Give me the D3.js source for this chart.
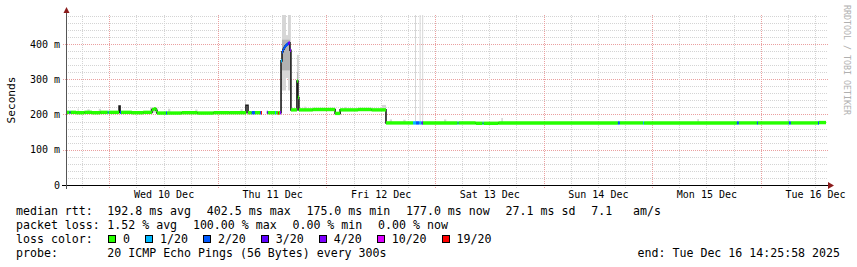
<!DOCTYPE html>
<html>
<head>
<meta charset="utf-8">
<script src="https://cdn.jsdelivr.net/npm/d3@7/dist/d3.min.js"></script>
<style>
body { margin: 0; background: #fff; }
text { font-family: "DejaVu Sans Mono", monospace; white-space: pre; }
</style>
</head>
<body>
<div id="chart"></div>
<script>
/* smokeping style latency graph, one week of median rtt with loss colours */

const startTime = "2025-12-09 14:25:58";
const endTime = "2025-12-16 14:25:58";

// median rtt (ms) as steps, with loss level index (null = no colour band)
const medTimes = [
  "2025-12-09 14:26", "2025-12-09 15:13", "2025-12-09 15:27", "2025-12-09 16:40", "2025-12-09 18:30",
  "2025-12-09 20:10", "2025-12-09 22:00", "2025-12-09 23:40", "2025-12-09 23:53", "2025-12-10 02:10",
  "2025-12-10 02:23", "2025-12-10 02:36", "2025-12-10 05:00", "2025-12-10 07:30", "2025-12-10 09:26",
  "2025-12-10 09:52", "2025-12-10 10:18", "2025-12-10 10:32", "2025-12-10 12:32", "2025-12-10 12:45",
  "2025-12-10 16:00", "2025-12-10 19:30", "2025-12-10 23:00", "2025-12-11 02:30", "2025-12-11 06:00",
  "2025-12-11 06:13", "2025-12-11 06:40", "2025-12-11 07:30", "2025-12-11 08:12", "2025-12-11 09:20",
  "2025-12-11 09:32", "2025-12-11 09:45", "2025-12-11 10:50", "2025-12-11 11:03", "2025-12-11 12:38",
  "2025-12-11 12:51", "2025-12-11 13:17", "2025-12-11 13:30", "2025-12-11 13:44", "2025-12-11 13:58",
  "2025-12-11 14:11", "2025-12-11 14:25", "2025-12-11 14:38", "2025-12-11 14:51", "2025-12-11 15:04",
  "2025-12-11 15:17", "2025-12-11 15:30", "2025-12-11 15:43", "2025-12-11 15:56", "2025-12-11 16:09",
  "2025-12-11 17:29", "2025-12-11 17:42", "2025-12-11 17:55", "2025-12-11 21:00", "2025-12-12 01:55",
  "2025-12-12 03:02", "2025-12-12 07:00", "2025-12-12 10:00", "2025-12-12 13:10", "2025-12-12 19:08",
  "2025-12-12 19:48", "2025-12-12 20:30", "2025-12-12 21:03", "2025-12-12 21:20", "2025-12-13 05:00",
  "2025-12-13 05:13", "2025-12-13 09:00", "2025-12-13 10:32", "2025-12-13 10:45", "2025-12-13 14:00",
  "2025-12-14 16:26", "2025-12-14 16:52", "2025-12-14 22:00", "2025-12-14 22:13", "2025-12-15 18:44",
  "2025-12-15 19:10", "2025-12-15 23:10", "2025-12-15 23:23", "2025-12-16 06:14", "2025-12-16 06:40",
  "2025-12-16 12:40", "2025-12-16 12:53", "2025-12-16 14:26"
];
const medValues = [
  206, 206, 206, 205, 206,
  205, 206, 206, 206, 224,
  206, 206, 205, 206, 214,
  216, 212, 204, 204, 204,
  205, 204, 205, 205, 205,
  226, 205, 205, 205, 205,
  205, null, 206, 205, 205,
  205, 204, 205, 205, 352,
  378, 385, 390, 394, 397,
  399, 401, 403, 382, 213,
  295, 248, 213, 214, 203,
  213, 214, 213, 176, 176,
  176, 176, 176, 176, 176,
  176, 175, 175, 175, 176,
  176, 176, 176, 176, 176,
  176, 176, 176, 176, 176,
  176, 177, 177
];
const medLoss = [
  0, 2, 0, 0, 0,
  0, 0, 1, 0, null,
  2, 0, 0, 0, 0,
  0, 0, 0, 2, 0,
  0, 0, 0, 0, 0,
  null, 0, 2, 0, 2,
  6, null, 3, 0, 1,
  0, 6, 0, 4, 1,
  2, 2, 2, 2, 2,
  2, 3, 4, 4, 0,
  0, 0, 0, 0, 0,
  0, 0, 0, 0, 1,
  2, 1, 3, 0, 1,
  0, 0, 1, 0, 0,
  2, 0, 1, 0, 2,
  0, 2, 0, 2, 0,
  2, 0, null
];

// smoke: spread of the pings (ms)
const smokeStart = [
  "2025-12-09 17:00", "2025-12-09 19:10", "2025-12-09 21:40", "2025-12-10 09:00", "2025-12-10 13:00",
  "2025-12-10 19:00", "2025-12-11 05:00", "2025-12-11 06:00", "2025-12-11 14:11", "2025-12-11 15:04",
  "2025-12-11 15:30", "2025-12-11 17:29", "2025-12-11 19:00", "2025-12-12 04:00", "2025-12-12 12:17",
  "2025-12-12 14:00", "2025-12-12 17:00", "2025-12-12 19:35", "2025-12-12 20:36", "2025-12-12 21:10",
  "2025-12-13 02:00", "2025-12-13 14:40", "2025-12-15 10:00", "2025-12-16 06:00"
];
const smokeEnd = [
  "2025-12-09 17:15", "2025-12-09 19:40", "2025-12-09 22:10", "2025-12-10 10:40", "2025-12-10 13:30",
  "2025-12-10 19:30", "2025-12-11 05:30", "2025-12-11 06:13", "2025-12-11 15:04", "2025-12-11 15:30",
  "2025-12-11 16:09", "2025-12-11 17:55", "2025-12-11 19:30", "2025-12-12 04:20", "2025-12-12 13:10",
  "2025-12-12 14:30", "2025-12-12 17:30", "2025-12-12 19:45", "2025-12-12 20:46", "2025-12-12 21:20",
  "2025-12-13 02:30", "2025-12-13 15:00", "2025-12-15 10:20", "2025-12-16 06:20"
];
const smokeLow = [
  205, 205, 205, 205, 204,
  204, 205, 205, 268, 303,
  268, 213, 213, 213, 213,
  176, 176, 176, 176, 176,
  176, 175, 176, 176
];
const smokeHigh = [
  217, 215, 216, 220, 216,
  214, 215, 242, 482, 425,
  482, 369, 222, 221, 227,
  186, 185, 482, 482, 482,
  186, 190, 187, 186
];
// darker core of the smoke
const coreStart = ["2025-12-11 14:11", "2025-12-11 17:29"];
const coreEnd = ["2025-12-11 15:56", "2025-12-11 17:42"];
const coreLow = [325, 250];
const coreHigh = [412, 320];

const yTicks = [0, 100, 200, 300, 400];
const yTickLabels = ["0", "100 m", "200 m", "300 m", "400 m"];

const lossLabels = ["0", "1/20", "2/20", "3/20", "4/20", "10/20", "19/20"];
const lossColors = ["#26ff00", "#00b8ff", "#0059ff", "#5e00ff", "#7e00ff", "#dd00ff", "#ff0000"];

const rttItems = ["192.8 ms avg", "402.5 ms max", "175.0 ms min", "177.0 ms now", "27.1 ms sd", "7.1   am/s"];
const pktItems = ["1.52 % avg", "100.00 % max", "0.00 % min", "0.00 % now"];
const probeText = "20 ICMP Echo Pings (56 Bytes) every 300s";

const parseT = d3.timeParse("%Y-%m-%d %H:%M");
const parseS = d3.timeParse("%Y-%m-%d %H:%M:%S");
const t0 = parseS(startTime), t1 = parseS(endTime);

const svg = d3.select('#chart').append('svg')
  .attr('width', 857)
  .attr('height', 267);

const x = d3.scaleTime().domain([t0, t1]).range([66, 826]);
const y = d3.scaleLinear().domain([0, 482]).range([185, 15]);
const px = v => Math.round(v) + 0.5;

// grid
const grid = svg.append('g');
d3.range(20, 481, 20).forEach(v => {
  const major = v % 100 === 0;
  grid.append('line')
    .attr('x1', major ? 63 : 66).attr('x2', 828)
    .attr('y1', px(y(v))).attr('y2', px(y(v)))
    .attr('stroke', major ? '#eaa0a0' : '#d4d4d4')
    .attr('stroke-dasharray', '1,1');
});
const midnights = d3.timeDay.range(d3.timeDay.ceil(t0), t1);
d3.timeHour.every(6).range(t0, t1).forEach(t => {
  const major = t.getHours() === 0;
  grid.append('line')
    .attr('x1', px(x(t))).attr('x2', px(x(t)))
    .attr('y1', 15).attr('y2', 188)
    .attr('stroke', major ? '#eaa0a0' : '#d4d4d4')
    .attr('stroke-dasharray', '1,1');
});

// smoke
smokeStart.forEach((s, i) => {
  const xa = x(parseT(s)), xb = x(parseT(smokeEnd[i]));
  svg.append('rect')
    .attr('x', xa).attr('width', Math.max(1, xb - xa))
    .attr('y', y(smokeHigh[i])).attr('height', y(smokeLow[i]) - y(smokeHigh[i]))
    .attr('fill', '#d6d6d6');
});
coreStart.forEach((s, i) => {
  const xa = x(parseT(s)), xb = x(parseT(coreEnd[i]));
  svg.append('rect')
    .attr('x', xa).attr('width', Math.max(1, xb - xa))
    .attr('y', y(coreHigh[i])).attr('height', y(coreLow[i]) - y(coreHigh[i]))
    .attr('fill', '#b2b2b2');
});

// median
const med = medTimes.map((t, i) => ({ t: parseT(t), v: medValues[i], loss: medLoss[i] }));
const stepLine = d3.line()
  .defined(d => d.v != null)
  .x(d => x(d.t))
  .y(d => y(d.v))
  .curve(d3.curveStepAfter);
svg.append('path')
  .datum(med)
  .attr('fill', 'none')
  .attr('stroke', '#1a1a1a')
  .attr('stroke-width', 1.6)
  .attr('d', stepLine);

med.forEach((d, i) => {
  if (i === med.length - 1 || d.v == null || d.loss == null) return;
  svg.append('line')
    .attr('x1', x(d.t)).attr('x2', x(med[i + 1].t))
    .attr('y1', y(d.v)).attr('y2', y(d.v))
    .attr('stroke', lossColors[d.loss])
    .attr('stroke-width', 3.4);
});

// axes
svg.append('line')
  .attr('x1', 62).attr('x2', 829).attr('y1', 185.5).attr('y2', 185.5)
  .attr('stroke', '#000');
svg.append('line')
  .attr('x1', 66.5).attr('x2', 66.5).attr('y1', 189).attr('y2', 11)
  .attr('stroke', '#555');
svg.append('path').attr('d', 'M828,182L834,185.5L828,189Z').attr('fill', '#8b1c1c');
svg.append('path').attr('d', 'M63.5,13L66.5,7L69.5,13Z').attr('fill', '#8b1c1c');

const yAxis = svg.append('g')
  .attr('transform', 'translate(63,0)')
  .call(d3.axisLeft(y).tickValues(yTicks).tickFormat((d, i) => yTickLabels[i]).tickSize(0).tickPadding(3));
yAxis.select('.domain').remove();
yAxis.selectAll('text')
  .attr('font-family', '"DejaVu Sans Mono", monospace')
  .attr('font-size', '10px')
  .attr('fill', '#000');

const noons = midnights.map(d => d3.timeHour.offset(d, 12));
const xAxis = svg.append('g')
  .attr('transform', 'translate(0,185)')
  .call(d3.axisBottom(x).tickValues(noons).tickFormat(d3.timeFormat('%a %d %b')).tickSize(0));
xAxis.select('.domain').remove();
xAxis.selectAll('text')
  .attr('y', 13.3).attr('dy', null)
  .attr('font-family', '"DejaVu Sans Mono", monospace')
  .attr('font-size', '10px')
  .attr('fill', '#000');

// titles
svg.append('text')
  .attr('transform', 'translate(15,100) rotate(-90)')
  .attr('text-anchor', 'middle')
  .style('font-size', '11.2px')
  .text('Seconds');

svg.append('text')
  .attr('transform', 'translate(844,5) rotate(90)')
  .style('font-size', '8.3px')
  .attr('fill', '#b0b0b0')
  .text('RRDTOOL / TOBI OETIKER');

// legend
const fs = '11.6px';
function row(label, items, yb) {
  svg.append('text').attr('x', 16).attr('y', yb).style('font-size', fs).text(label);
  let cx = 107.3;
  items.forEach(s => {
    const t = svg.append('text').attr('x', cx).attr('y', yb).style('font-size', fs).text(s);
    cx += t.node().getComputedTextLength() + 15.8;
  });
}
row('median rtt:', rttItems, 215);
row('packet loss:', pktItems, 229);

svg.append('text').attr('x', 16).attr('y', 243).style('font-size', fs).text('loss color:');
let bx = 108.3;
lossLabels.forEach((l, i) => {
  svg.append('rect')
    .attr('x', Math.round(bx) + 0.5).attr('y', 235.5)
    .attr('width', 7).attr('height', 7)
    .attr('fill', lossColors[i]).attr('stroke', '#000');
  const t = svg.append('text').attr('x', bx + 14.7).attr('y', 243).style('font-size', fs).text(l);
  bx = bx + 14.7 + t.node().getComputedTextLength() + 15.3;
});

svg.append('text').attr('x', 16).attr('y', 257).style('font-size', fs).text('probe:');
svg.append('text').attr('x', 107.3).attr('y', 257).style('font-size', fs).text(probeText);
svg.append('text').attr('x', 840).attr('y', 257).attr('text-anchor', 'end').style('font-size', fs)
  .text('end: ' + d3.timeFormat('%a %b %d %H:%M:%S %Y')(t1));
</script>
</body>
</html>
